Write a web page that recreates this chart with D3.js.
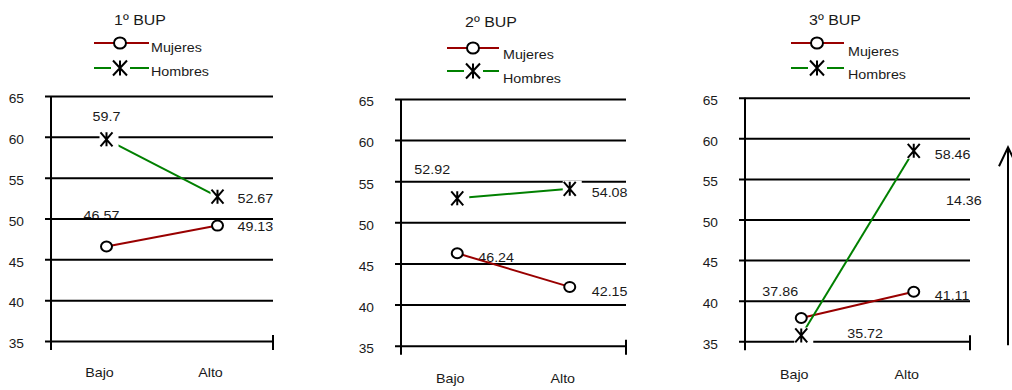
<!DOCTYPE html>
<html>
<head>
<meta charset="utf-8">
<script src="https://cdn.jsdelivr.net/npm/d3@7"></script>
<style>
  html, body { margin: 0; padding: 0; background: #fff; }
  svg { display: block; }
  text { font-family: "Liberation Sans", Arial, sans-serif; fill: #1a1a1a; }
</style>
</head>
<body>
<svg id="chart" width="1012" height="390"></svg>
<script>
// ---- data ----
const categories = ["Bajo", "Alto"];
const panelTitles = ["1º BUP", "2º BUP", "3º BUP"];
const seriesNames = ["Mujeres", "Hombres"];
const mujeres = [[46.57, 49.13], [46.24, 42.15], [37.86, 41.11]];
const hombres = [[59.7, 52.67], [52.92, 54.08], [35.72, 58.46]];
const yTicks = [35, 40, 45, 50, 55, 60, 65];
const extraNotes = ["", "", "14.36"];

// ---- styles ----
const seriesColors = ["#990000", "#008000"];
const markerKinds = ["circle", "star"];
const FONT = 13, TITLE_FONT = 14.5, TICK_FONT = 12.5, SX = 1.1;

// ---- layout of each panel ----
const panels = [
  { x0: 51, x1: 273, yTop: 96, yBot: 341, titleX: 140, titleY: 20,
    legX0: 94, legX1: 149, legMx: 120, legY: [43, 68], legTextX: 151, legTextY: [48, 72],
    catY: 373, note: null,
    lab: [[[-5, -31, "middle"], [20, 1, "start"]], [[0, -23, "middle"], [20, 2, "start"]]] },
  { x0: 401, x1: 626, yTop: 99, yBot: 345.7, titleX: 491, titleY: 22,
    legX0: 447, legX1: 499, legMx: 473, legY: [48, 71], legTextX: 503, legTextY: [55, 79],
    catY: 379, note: null,
    lab: [[[21, 4, "start"], [22, 5, "start"]], [[-25, -29, "middle"], [22, 4, "start"]]] },
  { x0: 745, x1: 970, yTop: 97.7, yBot: 341.3, titleX: 835, titleY: 20,
    legX0: 791, legX1: 844, legMx: 817, legY: [43, 68], legTextX: 848, legTextY: [52, 75],
    catY: 375, note: [946, 201],
    lab: [[[-21, -26, "middle"], [21, 4, "start"]], [[46, -2, "start"], [21, 4, "start"]]] }
];

const svg = d3.select("#chart");

// text with the slight horizontal stretch used throughout
function label(g, x, y, str, size, anchor) {
  return g.append("text")
    .attr("transform", `translate(${x},${y}) scale(${SX},1)`)
    .attr("text-anchor", anchor || "start")
    .attr("dominant-baseline", "central")
    .style("font-size", size + "px")
    .text(str);
}

function drawMarker(g, kind, cx, cy, big) {
  if (kind === "circle") {
    g.append("ellipse")
      .attr("cx", cx).attr("cy", cy)
      .attr("rx", big ? 6 : 5.5).attr("ry", big ? 5.5 : 5)
      .attr("fill", "#fff").attr("stroke", "#000").attr("stroke-width", 2);
  } else {
    const w = big ? 7 : 6, h = big ? 7.5 : 7;
    g.append("rect")
      .attr("x", cx - (big ? 9 : 7)).attr("y", cy - h - 1)
      .attr("width", 19).attr("height", 2 * h + 2)
      .attr("fill", "#fff");
    const p = `M${cx - w},${cy - h}L${cx + w},${cy + h}M${cx + w},${cy - h}L${cx - w},${cy + h}M${cx},${cy - h}L${cx},${cy + h}`;
    g.append("path").attr("d", p)
      .attr("fill", "none").attr("stroke", "#000").attr("stroke-width", 2);
  }
}

panels.forEach((P, i) => {
  const g = svg.append("g");
  const series = [mujeres[i], hombres[i]];

  const x = d3.scalePoint().domain(categories).range([P.x0, P.x1]).padding(0.5);
  const y = d3.scaleLinear().domain([35, 65]).range([P.yBot, P.yTop]);

  // title and legend
  label(g, P.titleX, P.titleY, panelTitles[i], TITLE_FONT, "middle");
  seriesNames.forEach((name, s) => {
    const ly = P.legY[s];
    g.append("line")
      .attr("x1", P.legX0).attr("x2", P.legX1).attr("y1", ly).attr("y2", ly)
      .attr("stroke", seriesColors[s]).attr("stroke-width", 2);
    drawMarker(g, markerKinds[s], P.legMx, ly, true);
    label(g, P.legTextX, P.legTextY[s], name, FONT, "start");
  });

  // value labels (under the grid)
  series.forEach((vals, s) => {
    vals.forEach((v, k) => {
      const [dx, dy, anchor] = P.lab[s][k];
      label(g, x(categories[k]) + dx, y(v) + dy, String(v), FONT, anchor);
    });
  });
  if (P.note) label(g, P.note[0], P.note[1], extraNotes[i], FONT, "start");

  // y axis: gridlines with outward ticks
  const yAxis = d3.axisLeft(y).tickValues(yTicks)
    .tickSize(-(P.x1 - P.x0)).tickSizeOuter(0).tickPadding(0)
    .tickFormat("");
  const ya = g.append("g").attr("transform", `translate(${P.x0},0)`).call(yAxis);
  ya.select(".domain").remove();
  ya.selectAll(".tick line")
    .attr("x1", -6).attr("x2", P.x1 - P.x0)
    .attr("stroke", "#000").attr("stroke-width", 2);
  yTicks.forEach(t => label(g, P.x0 - 27, y(t) + 3, String(t), TICK_FONT, "end"));

  // vertical axis line and end tick of the category axis
  g.append("line").attr("x1", P.x0).attr("x2", P.x0)
    .attr("y1", P.yTop).attr("y2", P.yBot + 9)
    .attr("stroke", "#000").attr("stroke-width", 2);
  g.append("line").attr("x1", P.x1).attr("x2", P.x1)
    .attr("y1", P.yBot - 6).attr("y2", P.yBot + 9)
    .attr("stroke", "#000").attr("stroke-width", 2);

  // category labels
  categories.forEach(c => label(g, x(c) - 7, P.catY, c, FONT, "middle"));

  // series lines
  const line = d3.line().x((d, k) => x(categories[k])).y(d => y(d));
  series.forEach((vals, s) => {
    g.append("path").datum(vals).attr("d", line)
      .attr("fill", "none").attr("stroke", seriesColors[s]).attr("stroke-width", 2);
  });

  // markers
  series.forEach((vals, s) => {
    vals.forEach((v, k) => drawMarker(g, markerKinds[s], x(categories[k]), y(v), false));
  });

  // upward arrow beside the third panel
  if (i === 2) {
    const ax = 1008, top = y(58.9), bottom = y(34.5);
    g.append("line").attr("x1", ax).attr("x2", ax).attr("y1", top).attr("y2", bottom)
      .attr("stroke", "#000").attr("stroke-width", 2);
    g.append("path").attr("d", `M${ax - 9},${top + 19}L${ax},${top}L${ax + 9},${top + 19}`)
      .attr("fill", "none").attr("stroke", "#000").attr("stroke-width", 2);
  }
});
</script>
</body>
</html>
